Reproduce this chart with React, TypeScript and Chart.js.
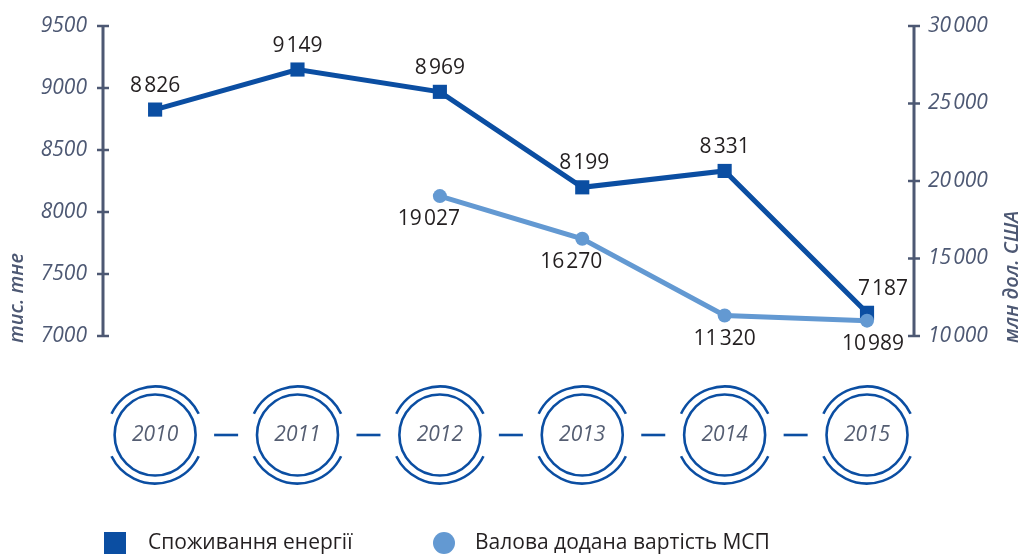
import React, { useEffect, useRef } from "react";
import { Chart, registerables } from "chart.js";

Chart.register(...registerables);

const years = [2010, 2011, 2012, 2013, 2014, 2015];
const energy = [8826, 9149, 8969, 8199, 8331, 7187];
const gva: (number | null)[] = [null, null, 19027, 16270, 11320, 10989];
const leftTicks = [7000, 7500, 8000, 8500, 9000, 9500];
const rightTicks = [10000, 15000, 20000, 25000, 30000];
const leftTitle = "тис. тне";
const rightTitle = "млн дол. США";
const legendLabels = ["Споживання енергії", "Валова додана вартість МСП"];

// label nudges (px) relative to the point
const energyLabelDx = [0, 0, 0, 2, 0, 16];
const gvaLabelDx = [0, 0, -11, -11, 0, 6];

const BLUE = "#0b4ea2";
const LIGHT = "#6399d2";
const AXIS = "#4d5873";
const FONT = "'Open Sans', 'Noto Sans', sans-serif";

const fmt = (n: number) => String(n).replace(/\B(?=(\d{3})+(?!\d))/g, "\u200A");

const overlay = {
  id: "overlay",
  afterDraw(chart: any) {
    const ctx = chart.ctx as CanvasRenderingContext2D;
    const { top, bottom, left, right } = chart.chartArea;
    const yl = chart.scales.y;
    const yr = chart.scales.y2;
    const xs = chart.scales.x;
    ctx.save();
    // axes
    ctx.strokeStyle = AXIS;
    ctx.lineWidth = 3;
    ctx.lineCap = "butt";
    [left, right].forEach((ax) => {
      ctx.beginPath();
      ctx.moveTo(ax, top - 1);
      ctx.lineTo(ax, bottom + 1);
      ctx.stroke();
    });
    ctx.lineWidth = 2.5;
    ctx.font = `italic 21px ${FONT}`;
    ctx.fillStyle = AXIS;
    ctx.textBaseline = "middle";
    leftTicks.forEach((t) => {
      const y = yl.getPixelForValue(t);
      ctx.beginPath();
      ctx.moveTo(left - 6, y);
      ctx.lineTo(left + 6, y);
      ctx.stroke();
      ctx.textAlign = "right";
      ctx.fillText(String(t), left - 16, y);
    });
    rightTicks.forEach((t) => {
      const y = yr.getPixelForValue(t);
      ctx.beginPath();
      ctx.moveTo(right - 6, y);
      ctx.lineTo(right + 6, y);
      ctx.stroke();
      ctx.textAlign = "left";
      ctx.fillText(fmt(t), right + 14, y);
    });
    // titles
    ctx.font = `italic 600 20px ${FONT}`;
    ctx.textAlign = "left";
    ctx.save();
    ctx.translate(17, 343);
    ctx.rotate(-Math.PI / 2);
    ctx.fillText(leftTitle, 0, 0);
    ctx.restore();
    ctx.save();
    ctx.translate(1012, 343);
    ctx.rotate(-Math.PI / 2);
    ctx.fillText(rightTitle, 0, 0);
    ctx.restore();

    // data labels
    ctx.fillStyle = "#231f20";
    ctx.font = `21px ${FONT}`;
    ctx.textAlign = "center";
    const m0 = chart.getDatasetMeta(0);
    m0.data.forEach((p: any, i: number) => {
      ctx.fillText(fmt(energy[i]), p.x + energyLabelDx[i], p.y - 24);
    });
    const m1 = chart.getDatasetMeta(1);
    m1.data.forEach((p: any, i: number) => {
      const v = gva[i];
      if (v == null) return;
      ctx.fillText(fmt(v), p.x + gvaLabelDx[i], p.y + 23);
    });

    // year circles
    const cy = 435;
    ctx.strokeStyle = BLUE;
    ctx.lineWidth = 2.6;
    const gap = (26 * Math.PI) / 180;
    years.forEach((yr2, i) => {
      const cx = xs.getPixelForValue(yr2);
      ctx.beginPath();
      ctx.arc(cx, cy, 40.5, 0, Math.PI * 2);
      ctx.stroke();
      ctx.beginPath();
      ctx.arc(cx, cy, 48.5, Math.PI + gap, 2 * Math.PI - gap);
      ctx.stroke();
      ctx.beginPath();
      ctx.arc(cx, cy, 48.5, gap, Math.PI - gap);
      ctx.stroke();
      if (i < years.length - 1) {
        ctx.beginPath();
        ctx.moveTo(cx + 59, cy);
        ctx.lineTo(cx + 83, cy);
        ctx.stroke();
      }
      ctx.fillStyle = "#555e72";
      ctx.font = `italic 21px ${FONT}`;
      ctx.textAlign = "center";
      ctx.textBaseline = "middle";
      ctx.fillText(String(yr2), cx, cy);
    });

    // legend
    ctx.fillStyle = BLUE;
    ctx.fillRect(104, 532, 22, 22);
    ctx.fillStyle = LIGHT;
    ctx.beginPath();
    ctx.arc(444, 543, 11, 0, Math.PI * 2);
    ctx.fill();
    ctx.fillStyle = "#231f20";
    ctx.font = `21px ${FONT}`;
    ctx.textAlign = "left";
    ctx.textBaseline = "middle";
    ctx.fillText(legendLabels[0], 148, 543);
    ctx.fillText(legendLabels[1], 475, 543);
    ctx.restore();
  },
};

export default function App() {
  const ref = useRef<HTMLCanvasElement>(null);
  useEffect(() => {
    if (!ref.current) return;
    const chart = new Chart(ref.current, {
      type: "line",
      data: {
        datasets: [
          {
            label: legendLabels[0],
            data: years.map((y, i) => ({ x: y, y: energy[i] })),
            yAxisID: "y",
            borderColor: BLUE,
            backgroundColor: BLUE,
            borderWidth: 5,
            pointStyle: "rect",
            pointRadius: 10,
            pointBorderWidth: 0,
            order: 1,
          },
          {
            label: legendLabels[1],
            data: years.map((y, i) => ({ x: y, y: gva[i] as any })),
            yAxisID: "y2",
            borderColor: LIGHT,
            backgroundColor: LIGHT,
            borderWidth: 5,
            pointStyle: "circle",
            pointRadius: 7,
            pointBorderWidth: 0,
            spanGaps: false,
            order: 0,
          },
        ],
      },
      options: {
        responsive: false,
        animation: false,
        devicePixelRatio: 1,
        layout: { padding: { left: 103, right: 108, top: 26, bottom: 220 } },
        plugins: { legend: { display: false }, tooltip: { enabled: false } },
        scales: {
          x: { type: "linear", min: 2009.634, max: 2015.33, display: false },
          y: { type: "linear", min: 7000, max: 9500, display: false },
          y2: { type: "linear", min: 10000, max: 30000, display: false, position: "right" },
        },
      },
      plugins: [overlay],
    });
    return () => chart.destroy();
  }, []);
  return (
    <div style={{ position: "fixed", left: 0, top: 0, width: 1022, height: 556, background: "#fff" }}>
      <canvas ref={ref} width={1022} height={556} />
    </div>
  );
}
